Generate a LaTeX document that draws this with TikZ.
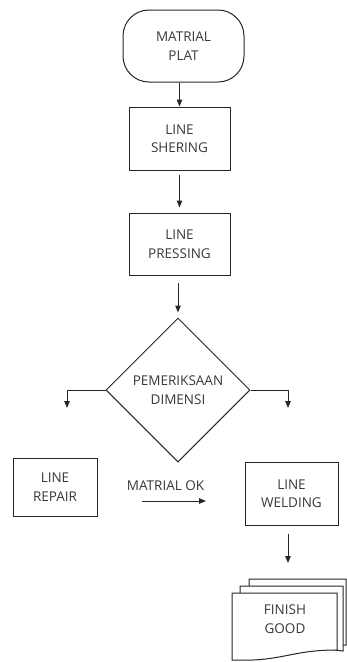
\documentclass[tikz,border=0pt]{standalone}
\usepackage{fontspec}
\setmainfont{Open Sans}
\usetikzlibrary{shapes.geometric,arrows.meta}
\begin{document}
\begin{tikzpicture}[x=1pt,y=-1pt,
  every node/.style={font=\fontsize{13.5}{18.5}\selectfont, text=black!78, align=center},
  box/.style={draw=black!85, line width=1pt, inner sep=0pt},
  link/.style={draw=black!85, line width=1pt, -{Triangle[length=7pt,width=5.5pt]}},
  doc/.style={draw=black!85, line width=1pt, fill=white},
]
\useasboundingbox (0,0) rectangle (347,662);

% process steps
\node[box, rounded corners=26pt, minimum width=121pt, minimum height=72pt] (plat) at (183.5,46) {MATRIAL\\PLAT};
\node[box, minimum width=101pt, minimum height=63pt] (shering) at (179.5,138.5) {LINE\\SHERING};
\node[box, minimum width=101pt, minimum height=62pt] (pressing) at (179.5,244) {LINE\\PRESSING};
\node[box, diamond, minimum width=144pt, minimum height=144pt] (cek) at (178,390) {PEMERIKSAAN\\DIMENSI};
\node[box, minimum width=84pt, minimum height=58pt] (repair) at (55,487) {LINE\\REPAIR};
\node[box, minimum width=93pt, minimum height=63pt] (welding) at (291.5,493.5) {LINE\\WELDING};

% stacked documents for the finished goods
\path[doc] (249,579) -- (346,579) -- (346,645) .. controls (335,645) and (325,646) .. (315,647) -- (249,647) -- cycle;
\path[doc] (240,586) -- (343,586) -- (343,651) .. controls (339,651) and (336,650) .. (330,649) -- (240,649) -- cycle;
\path[doc] (232,593) -- (337,593) -- (337,650) .. controls (290,650) and (282,662) .. (232,660) -- cycle;
\node (fg) at (285,619) {FINISH\\GOOD};

% connectors
\draw[link] (shering.north |- plat.south) -- (shering.north);
\draw[link, shorten <=4pt, shorten >=5pt] (shering.south) -- (pressing.north);
\draw[link, shorten <=7pt, shorten >=5pt] (pressing.south -| cek.north) -- (cek.north);

\coordinate (lend) at (67,408);
\coordinate (rend) at (288,408);
\draw[link] (cek.west) -| (lend);
\draw[link] (cek.east) -| (rend);

\node (ok) at (165.5,486) {MATRIAL OK};
\coordinate (okA) at (142,501);
\coordinate (okB) at (206,501);
\draw[link] (okA) -- (okB);

\coordinate (wend) at (288,563);
\draw[link, shorten <=8pt] (welding.south -| wend) -- (wend);
\end{tikzpicture}
\end{document}
